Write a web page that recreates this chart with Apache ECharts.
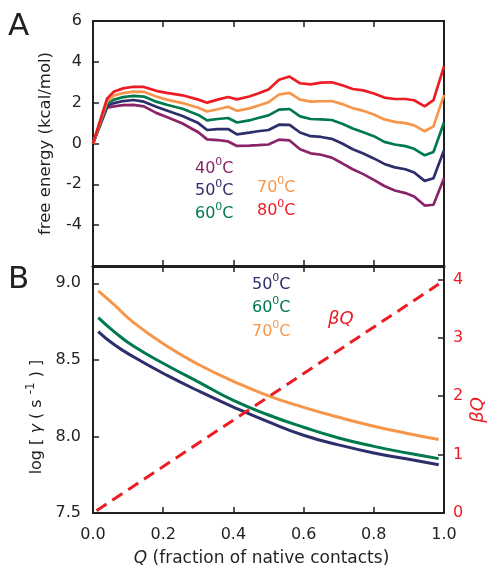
<!DOCTYPE html>
<html>
<head>
<meta charset="utf-8">
<script src="https://cdn.jsdelivr.net/npm/echarts@6/dist/echarts.min.js"></script>
<style>html,body{margin:0;padding:0;background:#fff;}#c{width:489px;height:576px;}</style>
</head>
<body>
<div id="c"></div>
<script>
// ---- Panel A data: free energy vs Q ----
const qA = [0,0.04,0.06,0.086,0.115,0.145,0.18,0.21,0.255,0.3,0.325,0.355,0.385,0.41,0.445,0.47,0.5,0.53,0.56,0.59,0.62,0.65,0.68,0.71,0.74,0.77,0.8,0.83,0.86,0.89,0.915,0.945,0.97,1.0];
const fe40 = [0,1.75,1.82,1.88,1.89,1.82,1.5,1.3,0.98,0.55,0.2,0.17,0.1,-0.12,-0.1,-0.08,-0.05,0.19,0.15,-0.28,-0.48,-0.55,-0.69,-0.97,-1.26,-1.5,-1.78,-2.08,-2.3,-2.43,-2.6,-3.04,-3.0,-1.7];
const fe50 = [0,1.85,1.98,2.08,2.13,2.05,1.8,1.62,1.35,1.0,0.66,0.7,0.71,0.45,0.53,0.6,0.66,0.92,0.91,0.54,0.36,0.32,0.23,0.0,-0.28,-0.49,-0.73,-1.0,-1.17,-1.26,-1.42,-1.83,-1.7,-0.33];
const fe60 = [0,1.95,2.15,2.27,2.33,2.3,2.05,1.9,1.7,1.4,1.13,1.2,1.25,1.03,1.13,1.25,1.38,1.66,1.69,1.33,1.2,1.18,1.15,0.97,0.73,0.55,0.36,0.08,-0.05,-0.13,-0.26,-0.58,-0.42,1.03];
const fe70 = [0,2.05,2.35,2.47,2.54,2.53,2.3,2.15,1.98,1.75,1.57,1.68,1.8,1.6,1.72,1.85,2.02,2.4,2.48,2.15,2.05,2.07,2.08,1.93,1.73,1.6,1.42,1.18,1.06,1.0,0.89,0.6,0.84,2.38];
const fe80 = [0,2.2,2.55,2.7,2.78,2.77,2.58,2.48,2.36,2.15,2.0,2.15,2.28,2.16,2.3,2.45,2.65,3.12,3.28,2.95,2.9,2.98,3.0,2.85,2.67,2.6,2.45,2.25,2.18,2.18,2.12,1.82,2.12,3.78];
const tempsA = ['40','50','60','70','80'];

// ---- Panel B data: log gamma vs Q, and beta*Q ----
const qB = [0.015,0.06,0.115,0.21,0.305,0.4,0.5,0.6,0.7,0.8,0.9,0.985];
const lg50 = [8.685,8.6,8.52,8.4,8.292,8.192,8.095,8.008,7.945,7.892,7.851,7.815];
const lg60 = [8.776,8.685,8.59,8.465,8.35,8.235,8.14,8.06,7.99,7.935,7.89,7.855];
const lg70 = [8.95,8.86,8.745,8.59,8.465,8.36,8.265,8.19,8.125,8.067,8.018,7.98];
const tempsB = ['50','60','70'];
const qBeta = [0.01,0.985];
const betaQ = [0.04,3.92];

// tick labels
const xTicks = ['0.0','0.2','0.4','0.6','0.8','1.0'];

const C = {p:'#8A2468', n:'#2D2E6C', g:'#007A4C', o:'#F6964B', r:'#EC1C24', k:'#231F20'};
const FF = 'DejaVu Sans';
const zip = (xs, ys) => xs.map((x,i)=>[x, ys[i]]);

function xAx(grid, pos, labels, extra) {
  return Object.assign({
    type:'value', gridIndex:grid, position:pos, min:0, max:1, interval:0.2,
    splitLine:{show:false},
    axisLine:{onZero:false, lineStyle:{color:C.k, width:2}},
    axisTick:{inside:true, length:6, lineStyle:{color:C.k, width:1.5}},
    axisLabel:{show:labels, margin:14, fontSize:16, fontFamily:FF, color:C.k,
      formatter:(v)=>xTicks[Math.round(v*5)]}
  }, extra||{});
}
function yAx(grid, pos, min, max, interval, labelOpt, extra) {
  return Object.assign({
    type:'value', gridIndex:grid, position:pos, min, max, interval,
    splitLine:{show:false},
    axisLine:{show:true, onZero:false, lineStyle:{color:C.k, width:2}},
    axisTick:{show: labelOpt!==null, inside:true, length:6, lineStyle:{color:C.k, width:1.5}},
    axisLabel: labelOpt===null ? {show:false} : Object.assign({fontSize:16, fontFamily:FF, color:C.k}, labelOpt)
  }, extra||{});
}
function legendText(x, y, t, color) {
  return {type:'text', x, y, style:{
    text: t + '{s|0}C', fill:color, fontSize:16, fontFamily:FF, lineHeight:24,
    align:'left', verticalAlign:'middle',
    rich:{s:{fontSize:11, lineHeight:11, verticalAlign:'top', fill:color, fontFamily:FF}}
  }};
}
function lineSeries(name, xs, ys, color, xi, yi, extra) {
  return Object.assign({type:'line', name, data:zip(xs, ys), xAxisIndex:xi, yAxisIndex:yi,
    showSymbol:false, symbol:'none', lineStyle:{color, width:2.7}, itemStyle:{color}, z:3}, extra||{});
}

const chart = echarts.init(document.getElementById('c'), null, {renderer:'canvas'});
chart.setOption({
  animation:false,
  backgroundColor:'#fff',
  grid:[
    {left:93, top:21, width:351, height:245},
    {left:93, top:266, width:351, height:247}
  ],
  xAxis:[
    xAx(0,'bottom',false),
    xAx(0,'top',false),
    xAx(1,'bottom',true,{name:'{q|Q} (fraction of native contacts)', nameLocation:'middle', nameGap:37,
      nameTextStyle:{fontSize:17, fontFamily:FF, color:C.k, padding:[0,14,0,0],
        rich:{q:{fontStyle:'italic', fontSize:17, fontFamily:FF, color:C.k}}}}),
    xAx(1,'top',false,{axisLine:{onZero:false, lineStyle:{color:C.k, width:3}}})
  ],
  yAxis:[
    yAx(0,'left',-6,6,2,{margin:11, showMinLabel:false},
      {name:'free energy (kcal/mol)', nameLocation:'middle', nameGap:39,
       nameTextStyle:{fontSize:16.5, fontFamily:FF, color:C.k}}),
    yAx(0,'right',-6,6,2,null),
    yAx(1,'left',7.5,9.113,0.5,{margin:12, showMaxLabel:false, formatter:(v)=>v.toFixed(1)}),
    yAx(1,'right',0,4.23,1,{margin:9, showMaxLabel:false, color:C.r})
  ],
  graphic:[
    {type:'text', x:8, y:27, style:{text:'A', fontSize:31, fontFamily:FF, fill:C.k, align:'left', verticalAlign:'middle'}},
    {type:'text', x:8, y:280, style:{text:'B', fontSize:31, fontFamily:FF, fill:C.k, align:'left', verticalAlign:'middle'}},
    legendText(195,169,tempsA[0],C.p),
    legendText(195,191,tempsA[1],C.n),
    legendText(195,213.5,tempsA[2],C.g),
    legendText(257,188,tempsA[3],C.o),
    legendText(257,211,tempsA[4],C.r),
    legendText(252,284.5,tempsB[0],C.n),
    legendText(252,308,tempsB[1],C.g),
    legendText(252,331.5,tempsB[2],C.o),
    {type:'text', x:328, y:319, style:{text:'βQ', fontSize:18, fontStyle:'italic', fontFamily:FF, fill:C.r, align:'left', verticalAlign:'middle'}},
    {type:'text', x:37, y:417, rotation:Math.PI/2, style:{
      text:'log [ {g|γ} ( s {s|-1} ) ]', fontSize:16, fontFamily:FF, fill:C.k, lineHeight:24,
      align:'center', verticalAlign:'middle',
      rich:{g:{fontStyle:'italic', fontSize:16, fontFamily:FF, fill:C.k}, s:{fontSize:12, lineHeight:12, verticalAlign:'top', fontFamily:FF, fill:C.k}}
    }},
    {type:'text', x:478, y:410, rotation:Math.PI/2, style:{text:'βQ', fontSize:18, fontStyle:'italic', fontFamily:FF, fill:C.r, align:'center', verticalAlign:'middle'}}
  ],
  series:[
    lineSeries('40°C', qA, fe40, C.p, 0, 0),
    lineSeries('50°C', qA, fe50, C.n, 0, 0),
    lineSeries('60°C', qA, fe60, C.g, 0, 0),
    lineSeries('70°C', qA, fe70, C.o, 0, 0),
    lineSeries('80°C', qA, fe80, C.r, 0, 0),
    lineSeries('50°C B', qB, lg50, C.n, 2, 2, {smooth:true, lineStyle:{color:C.n, width:3}}),
    lineSeries('60°C B', qB, lg60, C.g, 2, 2, {smooth:true, lineStyle:{color:C.g, width:3}}),
    lineSeries('70°C B', qB, lg70, C.o, 2, 2, {smooth:true, lineStyle:{color:C.o, width:3}}),
    lineSeries('βQ', qBeta, betaQ, C.r, 2, 3, {lineStyle:{color:C.r, width:3, type:[12,7]}})
  ]
});
</script>
</body>
</html>
